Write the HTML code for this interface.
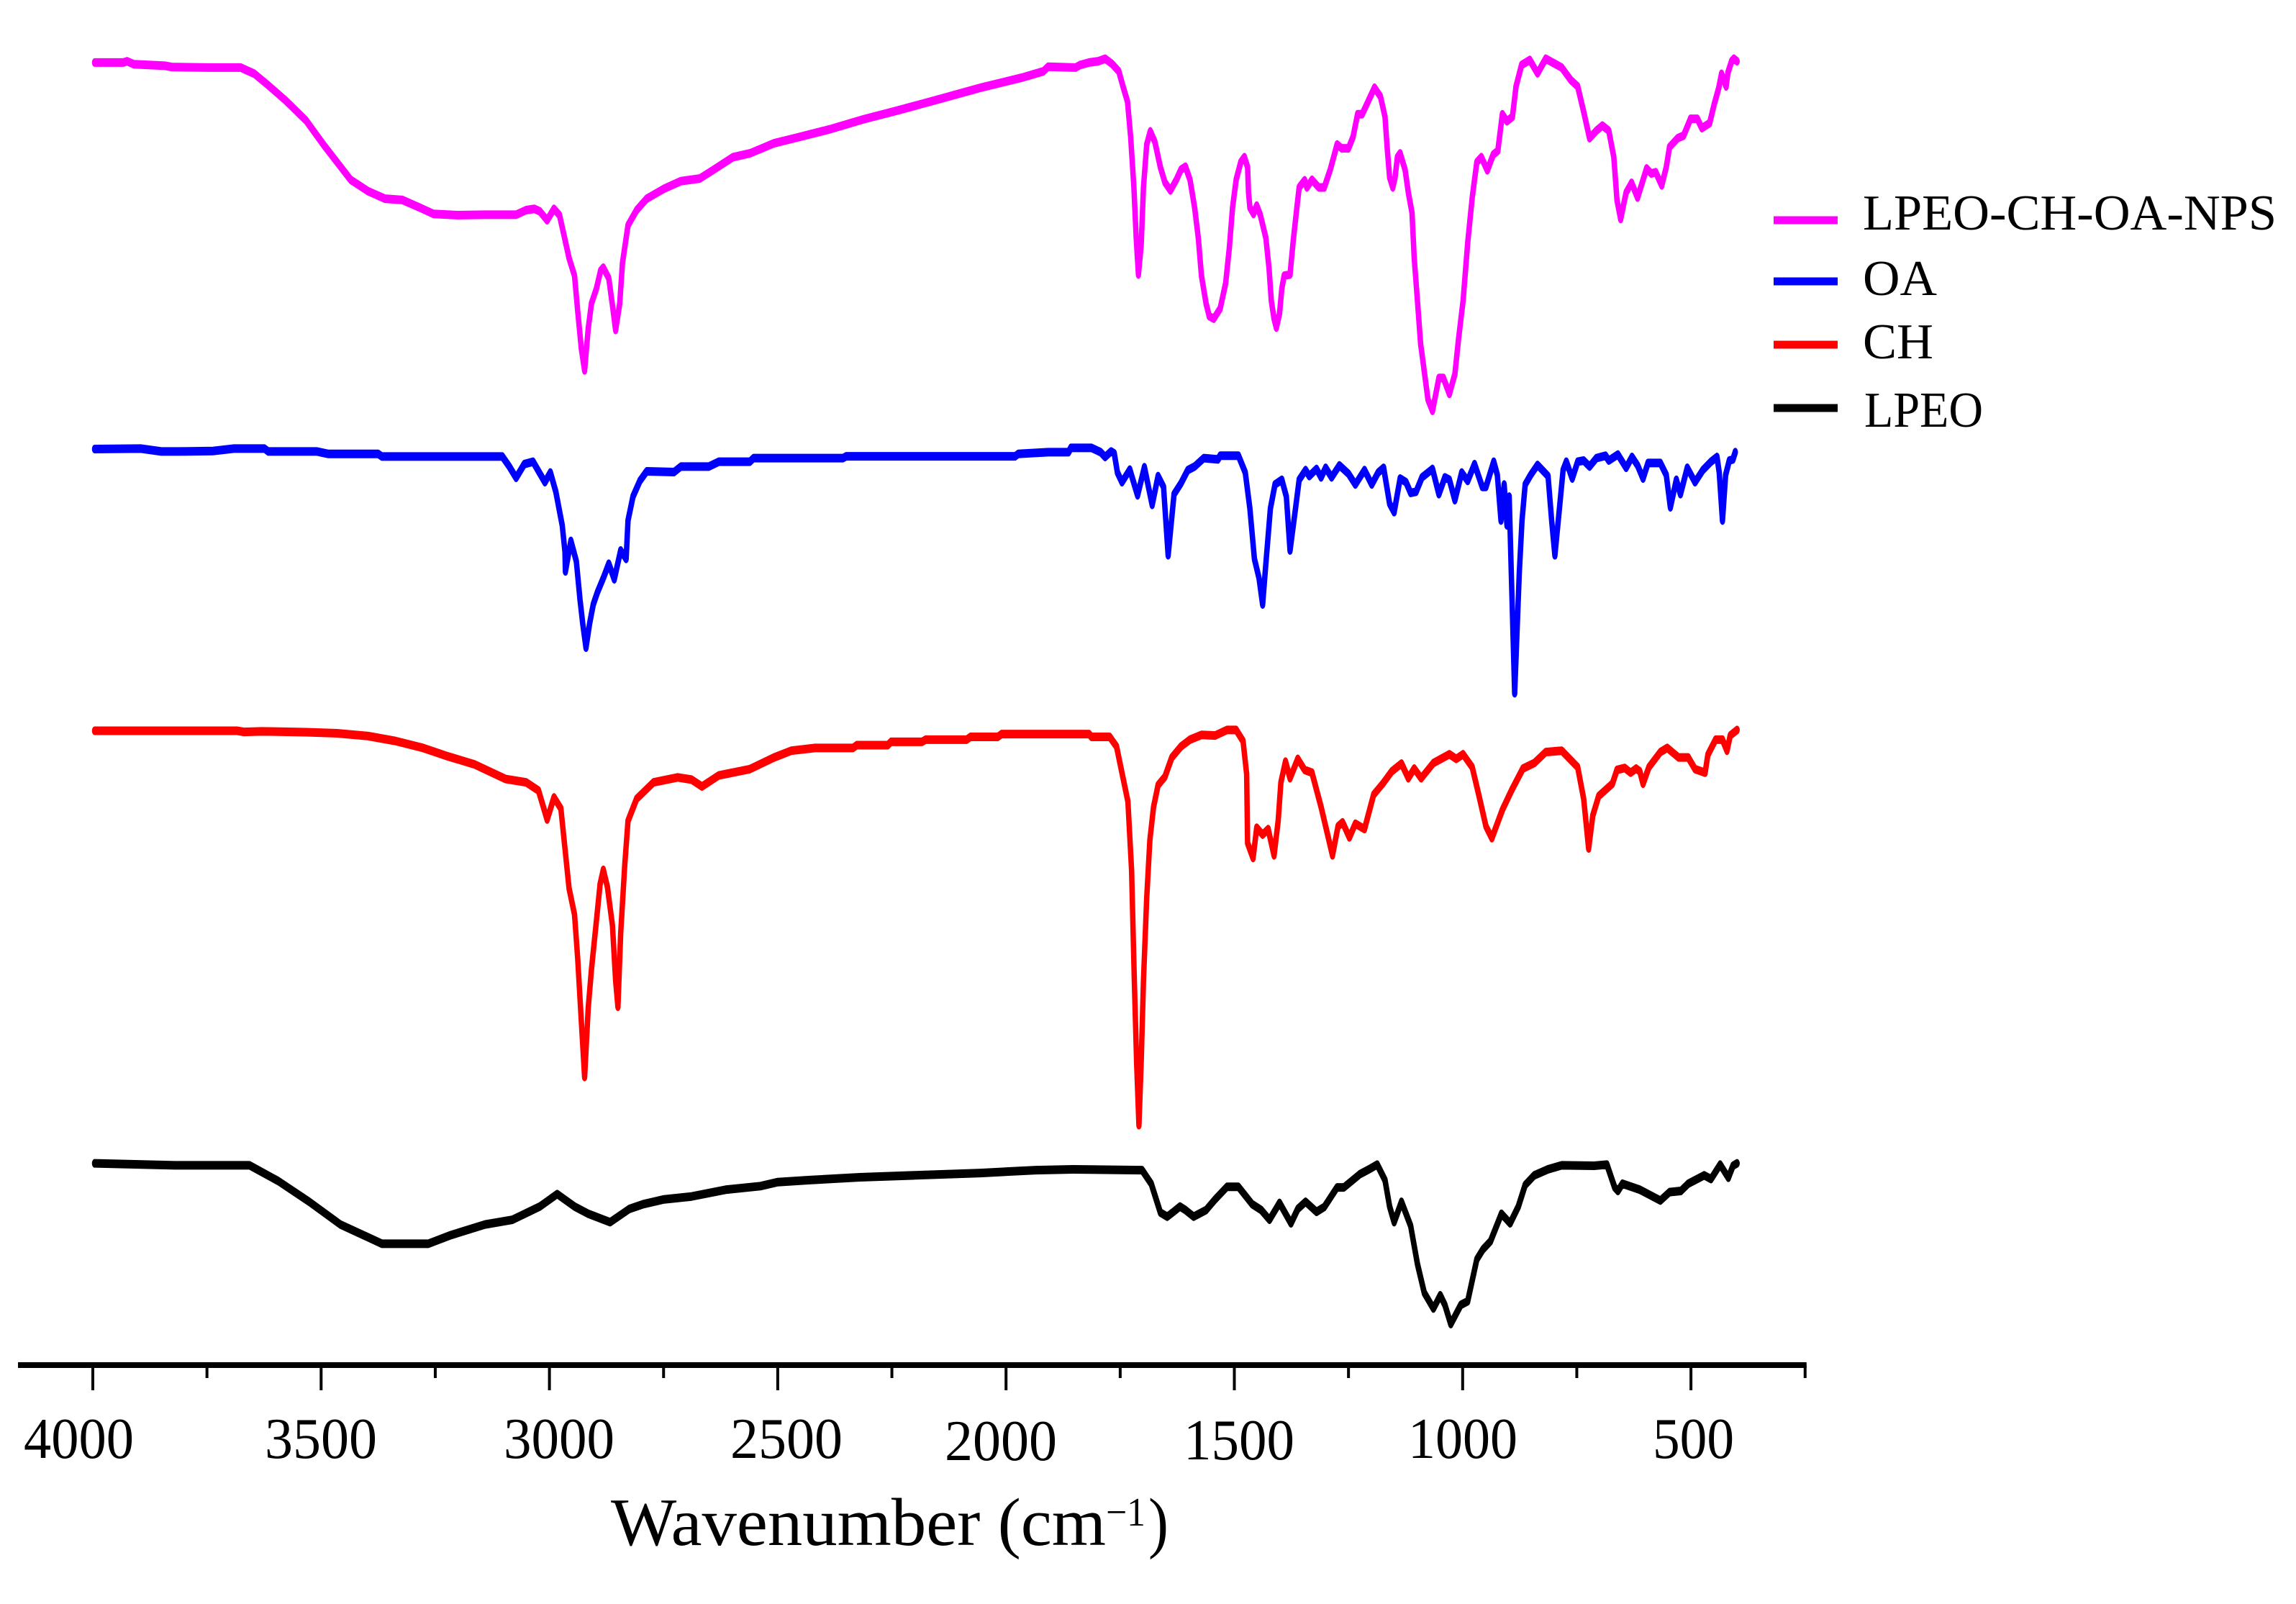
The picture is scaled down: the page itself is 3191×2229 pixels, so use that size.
<!DOCTYPE html>
<html lang="en">
<head>
<meta charset="utf-8">
<title>FTIR spectra</title>
<style>
html,body{margin:0;padding:0;background:#fff;width:3191px;height:2229px;overflow:hidden}
svg{display:block}
text{font-family:"Liberation Serif",serif;fill:#000}
</style>
</head>
<body>
<svg id="chart" xmlns="http://www.w3.org/2000/svg" width="3191" height="2229" viewBox="0 0 3191 2229">
<rect x="0" y="0" width="3191" height="2229" fill="#fff"/>
<g id="series-layer" transform="scale(1,1.6)"></g>
<g id="axis-layer"></g>
<g font-size="80">
<text x="33" y="2026" textLength="153" lengthAdjust="spacingAndGlyphs">4000</text>
<text x="368" y="2026" textLength="156" lengthAdjust="spacingAndGlyphs">3500</text>
<text x="700" y="2026" textLength="154" lengthAdjust="spacingAndGlyphs">3000</text>
<text x="1015" y="2026" textLength="156" lengthAdjust="spacingAndGlyphs">2500</text>
<text x="1313" y="2029" textLength="156" lengthAdjust="spacingAndGlyphs">2000</text>
<text x="1645" y="2028" textLength="154" lengthAdjust="spacingAndGlyphs">1500</text>
<text x="1957" y="2026" textLength="152" lengthAdjust="spacingAndGlyphs">1000</text>
<text x="2297" y="2026" textLength="113" lengthAdjust="spacingAndGlyphs">500</text>
</g>
<g>
<text x="849" y="2147" font-size="94" textLength="688" lengthAdjust="spacingAndGlyphs">Wavenumber (cm</text>
<text x="1537" y="2120" font-size="56" textLength="55" lengthAdjust="spacingAndGlyphs">−1</text>
<text x="1596" y="2147" font-size="94" textLength="28" lengthAdjust="spacingAndGlyphs">)</text>
</g>
<g font-size="70">
<line x1="2465" x2="2554" y1="306" y2="306" stroke="#ff00ff" stroke-width="11"/>
<text x="2589" y="319" textLength="575" lengthAdjust="spacingAndGlyphs">LPEO-CH-OA-NPS</text>
<line x1="2465" x2="2554" y1="391" y2="391" stroke="#0000ff" stroke-width="11"/>
<text x="2589" y="410" textLength="103" lengthAdjust="spacingAndGlyphs">OA</text>
<line x1="2465" x2="2554" y1="479" y2="479" stroke="#ff0000" stroke-width="11"/>
<text x="2589" y="498" textLength="98" lengthAdjust="spacingAndGlyphs">CH</text>
<line x1="2465" x2="2554" y1="567" y2="567" stroke="#000000" stroke-width="11"/>
<text x="2591" y="593" textLength="165" lengthAdjust="spacingAndGlyphs">LPEO</text>
</g>
</svg>
<script>
const tickValues = [4000,3750,3500,3250,3000,2750,2500,2250,2000,1750,1500,1250,1000,750,500,250];

const nanoWavenumbers = [3996,3933,3925,3910,3842,3827,3744,3691,3676,3646,3616,3578,3533,3495,3465,3435,3397,3360,3322,3284,3254,3201,3141,3073,3051,3033,3021,3005,2990,2978,2968,2957,2945,2938,2930,2923,2915,2908,2897,2888,2882,2870,2861,2855,2846,2840,2828,2809,2787,2749,2712,2671,2636,2598,2561,2508,2463,2387,2312,2237,2146,2056,1965,
1918,1908,1848,1838,1818,1798,1783,1768,1753,1743,1734,1727,1720,1715,1710,1704,1699,1692,1684,1674,1662,1652,1640,1627,1617,1607,1597,1587,1579,1572,1562,1555,1545,1531,1519,1511,1504,1496,1486,1478,1471,1469,1466,1458,1451,1443,1431,1424,1419,1413,1408,1401,1396,1391,1378,1371,1363,1358,1346,1341,1330,1315,1303,1290,1275,1265,1250,1240,1230,1220,1207,1193,1180,1170,1165,1160,1153,1148,1143,1137,1126,1119,1111,1106,1099,1092,1084,1076,1066,1059,1052,1042,1029,1017,1009,999,989,979,969,959,946,933,923,913,903,891,883,871,853,836,818,783,763,748,735,722,707,694,680,669,662,654,642,630,617,597,587,577,564,554,547,529,516,501,486,476,459,449,439,433,423,419,411,406,399];
const nanoAbsorbance = [105,105,100,112,118,123,125,125,125,150,195,255,335,430,500,570,615,645,650,680,705,710,708,708,690,685,695,730,685,710,790,880,950,1090,1240,1325,1160,1060,1000,930,918,960,1080,1165,1060,900,750,690,645,605,575,565,525,480,465,425,405,370,330,295,250,205,165,
140,122,125,115,105,100,90,110,140,205,260,400,600,800,945,830,600,430,378,420,520,580,612,570,530,518,570,680,800,950,1060,1110,1120,1080,980,840,680,570,500,480,520,620,680,705,672,710,800,920,1050,1120,1155,1100,1000,950,945,810,680,600,572,600,570,600,600,530,430,445,445,400,310,310,260,205,240,320,450,560,600,560,480,465,530,620,700,880,1050,1220,1330,1440,1485,1420,1355,1355,1418,1340,1200,1050,820,640,500,480,532,470,455,310,338,320,200,115,95,148,90,125,175,200,300,405,375,355,375,480,650,725,620,582,640,525,545,540,592,520,440,405,395,328,328,365,345,270,205,150,200,145,100,90,100];

const oaWavenumbers = [3996,3895,3850,3807,3737,3691,3624,3616,3510,3485,3375,3367,3103,3088,3073,3055,3036,3010,2998,2986,2972,2966,2965,2953,2941,2933,2927,2920,2912,2904,2895,2882,2870,2858,2844,2832,2828,2817,2802,2787,2727,2712,2651,2629,2561,2553,2357,2350,1980,1973,
1908,1863,1858,1813,1793,1783,1770,1763,1756,1746,1729,1712,1697,1680,1667,1655,1645,1632,1617,1602,1587,1567,1536,1531,1491,1476,1466,1456,1446,1438,1431,1421,1411,1396,1386,1378,1366,1358,1344,1336,1320,1310,1300,1287,1270,1250,1235,1215,1199,1185,1173,1160,1150,1137,1124,1114,1102,1089,1066,1052,1039,1029,1017,1002,989,974,957,949,932,924,916,909,903,898,893,886,876,870,863,851,836,813,805,798,788,780,773,760,748,735,722,707,687,680,660,642,629,617,605,594,567,554,545,532,523,508,491,474,456,443,438,431,424,416,408,403];
const oaAbsorbance = [102,100,112,112,110,100,100,112,112,122,122,133,133,175,222,165,155,240,200,280,420,530,612,485,570,730,830,930,830,750,700,640,580,645,525,560,400,300,235,195,198,175,175,155,155,140,140,132,132,122,
115,115,97,97,115,135,112,120,200,240,188,295,178,335,215,260,545,290,245,190,175,140,145,130,130,200,350,560,640,750,580,350,250,230,300,525,350,230,190,215,185,220,180,220,170,205,250,190,250,200,180,330,365,225,240,285,280,220,185,290,220,230,315,200,235,165,260,260,155,210,400,250,420,300,650,1120,620,400,250,210,168,215,400,545,350,190,155,225,155,150,175,140,130,150,125,180,135,170,225,160,160,210,345,230,290,180,240,190,155,135,200,400,210,150,145,115];

const chWavenumbers = [3996,3684,3669,3631,3533,3465,3397,3337,3277,3224,3164,3096,3051,3024,3005,2990,2975,2966,2957,2945,2938,2930,2923,2915,2908,2897,2889,2882,2873,2862,2855,2850,2844,2835,2828,2809,2772,2719,2689,2666,2629,2561,2508,2470,2418,2335,2327,2259,2252,2184,2176,2086,2078,2018,2010,
1918,1818,1813,1773,1758,1748,1733,1725,1719,1714,1709,1704,1699,1692,1685,1677,1667,1652,1637,1617,1597,1572,1542,1516,1496,1481,1473,1471,1459,1451,1438,1426,1413,1404,1398,1388,1378,1361,1346,1330,1310,1285,1273,1263,1248,1235,1215,1195,1175,1155,1134,1119,1106,1091,1064,1029,1014,999,979,964,949,936,913,893,868,843,818,783,748,735,724,715,702,672,662,645,632,620,612,605,592,567,552,527,506,491,469,463,446,431,421,414,399];
const chAbsorbance = [93,93,97,95,98,102,112,130,155,185,215,268,280,310,415,335,375,520,665,760,920,1150,1350,1100,960,780,650,598,660,800,1000,1095,830,580,420,340,280,262,270,295,255,232,190,165,155,155,145,145,133,133,125,125,115,115,105,
105,105,115,115,150,230,350,600,1000,1300,1525,1300,1000,700,490,370,290,260,190,150,125,108,110,90,90,130,250,500,555,445,470,450,545,420,280,205,265,195,235,245,370,545,440,425,480,430,450,325,285,240,212,265,230,265,210,178,195,178,225,330,440,483,380,310,230,210,170,165,225,340,520,400,330,285,235,228,245,230,240,285,225,170,155,190,190,232,245,180,125,125,165,110,90];

const lpeoWavenumbers = [3996,3820,3657,3593,3526,3458,3367,3265,3217,3141,3081,3021,2983,2945,2915,2867,2825,2794,2749,2689,2614,2538,2500,2433,2320,2199,2056,1935,
1853,1702,1682,1662,1647,1632,1619,1607,1589,1562,1542,1516,1491,1461,1441,1423,1401,1376,1361,1344,1320,1303,1275,1260,1225,1205,1187,1170,1160,1150,1134,1114,1099,1084,1064,1049,1039,1026,1004,989,969,956,939,915,896,878,863,843,813,783,712,684,667,660,650,612,567,547,522,506,471,456,436,418,408,399];
const lpeoAbsorbance = [140,148,148,215,300,395,475,475,440,395,375,320,268,320,350,385,330,310,290,278,250,235,218,210,198,190,180,168,
165,168,225,345,362,340,320,335,362,335,290,238,238,310,335,375,305,390,330,300,342,322,240,240,185,165,145,210,320,385,300,400,560,680,745,690,730,810,730,715,540,500,465,350,390,320,230,190,165,148,150,145,240,255,225,250,295,260,255,225,190,205,145,200,150,140];

const axisY = 1897;
const verticalStretch = 1.6;
function xScale(wavenumber) {
  return 129 + (4000 - wavenumber) * 0.6346;
}
function yScale(absorbance, offset, gain) {
  return (offset + absorbance * gain) / verticalStretch;
}

const SVG_NS = 'http://www.w3.org/2000/svg';
const axisLayer = document.getElementById('axis-layer');
const seriesLayer = document.getElementById('series-layer');

const axisLine = document.createElementNS(SVG_NS, 'line');


axisLine.setAttribute('x1', 25);
axisLine.setAttribute('x2', xScale(250) + 2);
axisLine.setAttribute('y1', axisY);
axisLine.setAttribute('y2', axisY);
axisLine.setAttribute('stroke', '#000');
axisLine.setAttribute('stroke-width', 8);
axisLayer.appendChild(axisLine);

tickValues.forEach(function (value) {
  const tick = document.createElementNS(SVG_NS, 'line');
  
  
  const major = value % 500 === 0;
  tick.setAttribute('x1', xScale(value));
  tick.setAttribute('x2', xScale(value));
  tick.setAttribute('y1', axisY);
  tick.setAttribute('y2', major ? 1932 : 1915);
  tick.setAttribute('stroke', '#000');
  tick.setAttribute('stroke-width', 4);
  axisLayer.appendChild(tick);
});

function drawSeries(name, color, wavenumbers, absorbance, offset, gain) {
  const count = Math.min(wavenumbers.length, absorbance.length);
  let d = '';
  for (let i = 0; i < count; i++) {
    d += (i ? 'L' : 'M') + xScale(wavenumbers[i]).toFixed(1) + ' ' + yScale(absorbance[i], offset, gain).toFixed(1);
  }
  const path = document.createElementNS(SVG_NS, 'path');
  
  
  path.setAttribute('d', d);
  path.setAttribute('fill', 'none');
  path.setAttribute('stroke', color);
  path.setAttribute('stroke-width', 7.5);
  path.setAttribute('stroke-linejoin', 'round');
  path.setAttribute('stroke-linecap', 'round');
  seriesLayer.appendChild(path);
}

drawSeries('series-lpeo-ch-oa-nps', '#ff00ff', nanoWavenumbers, nanoAbsorbance, 50, 1 / 2.851);
drawSeries('series-oa', '#0000ff', oaWavenumbers, oaAbsorbance, 590, 1 / 3);
drawSeries('series-ch', '#ff0000', chWavenumbers, chAbsorbance, 980, 1 / 2.613);
drawSeries('series-lpeo', '#000000', lpeoWavenumbers, lpeoAbsorbance, 1570, 1 / 3);
</script>
</body>
</html>
